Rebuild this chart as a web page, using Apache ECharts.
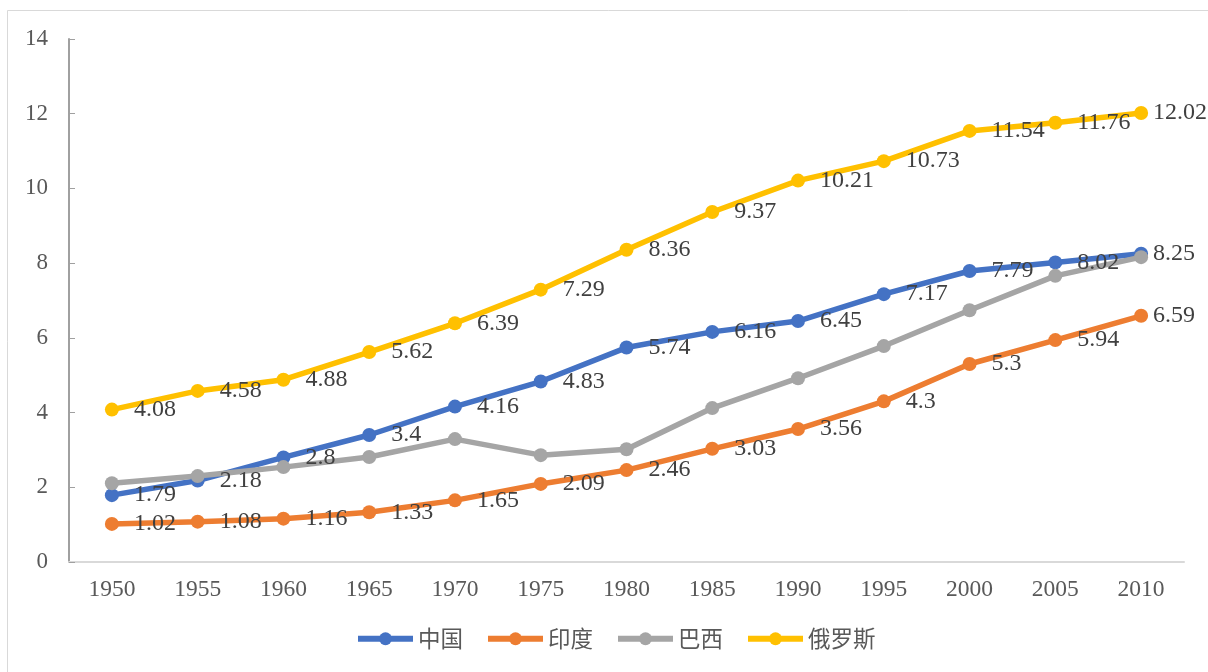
<!DOCTYPE html>
<html>
<head>
<meta charset="utf-8">
<style>
  html, body { margin: 0; padding: 0; background: #fff; }
  #chart { width: 1208px; height: 672px; }
</style>
<script src="https://cdn.jsdelivr.net/npm/echarts@6/dist/echarts.min.js"></script>
</head>
<body>
<div id="chart"></div>
<script>
// Years on the category axis
const years = ['1950', '1955', '1960', '1965', '1970', '1975', '1980', '1985', '1990', '1995', '2000', '2005', '2010'];

// Series values per country
const china  = [1.79, 2.18, 2.8, 3.4, 4.16, 4.83, 5.74, 6.16, 6.45, 7.17, 7.79, 8.02, 8.25];
const india  = [1.02, 1.08, 1.16, 1.33, 1.65, 2.09, 2.46, 3.03, 3.56, 4.3, 5.3, 5.94, 6.59];
const brazil = [2.11, 2.30, 2.54, 2.81, 3.29, 2.86, 3.02, 4.12, 4.92, 5.78, 6.74, 7.66, 8.16];
const russia = [4.08, 4.58, 4.88, 5.62, 6.39, 7.29, 8.36, 9.37, 10.21, 10.73, 11.54, 11.76, 12.02];

const names = ['中国', '印度', '巴西', '俄罗斯'];
const colors = ['#4472C4', '#ED7D31', '#A5A5A5', '#FFC000'];

const serif = "'Times New Roman', 'Liberation Serif', serif";

// Last point's label sits closer so it stays inside the canvas
function withLabelTweaks(data) {
  return data.map(function (v, i) {
    if (i === data.length - 1) {
      return { value: v, label: { distance: 5, offset: [0, 1] } };
    }
    return v;
  });
}

function lineSeries(name, data, color, withLabels) {
  return {
    name: name,
    type: 'line',
    data: withLabels ? withLabelTweaks(data) : data,
    symbol: 'circle',
    symbolSize: 14,
    lineStyle: { width: 5.5, color: color },
    itemStyle: { color: color },
    label: {
      show: withLabels,
      position: 'right',
      distance: 15,
      offset: [0, 3],
      fontFamily: serif,
      fontSize: 24,
      color: '#404040'
    },
    labelLayout: { hideOverlap: false },
    z: 2
  };
}

const chart = echarts.init(document.getElementById('chart'));
chart.setOption({
  animation: false,
  backgroundColor: '#ffffff',
  color: colors,
  graphic: [{
    type: 'rect',
    shape: { x: 7.5, y: 10.5, width: 1300, height: 800 },
    style: { fill: 'none', stroke: '#d9d9d9', lineWidth: 1 },
    silent: true,
    z: -10
  }],
  grid: { left: 69, right: 24, top: 39, bottom: 110, containLabel: false },
  legend: {
    bottom: 22,
    left: 355,
    padding: 0,
    itemWidth: 55,
    itemHeight: 16,
    itemGap: 22,
    lineStyle: { width: 6 },
    textStyle: { fontFamily: "'Noto Sans CJK SC', sans-serif", fontSize: 22.5, color: '#595959' },
    data: names
  },
  xAxis: {
    type: 'category',
    data: years,
    boundaryGap: true,
    axisLine: { lineStyle: { color: '#d9d9d9', width: 2 } },
    axisTick: { show: false },
    axisLabel: { margin: 16, fontFamily: serif, fontSize: 23.5, color: '#595959' },
    splitLine: { show: false }
  },
  yAxis: {
    type: 'value',
    min: 0,
    max: 14,
    interval: 2,
    axisLine: { show: true, lineStyle: { color: '#a0a0a0', width: 2 } },
    axisTick: { show: true, inside: true, length: 6, lineStyle: { color: '#a0a0a0', width: 1 } },
    axisLabel: { margin: 21, fontFamily: serif, fontSize: 23, color: '#595959' },
    splitLine: { show: false }
  },
  series: [
    lineSeries(names[0], china, colors[0], true),
    lineSeries(names[1], india, colors[1], true),
    lineSeries(names[2], brazil, colors[2], false),
    lineSeries(names[3], russia, colors[3], true)
  ]
});
</script>
</body>
</html>
